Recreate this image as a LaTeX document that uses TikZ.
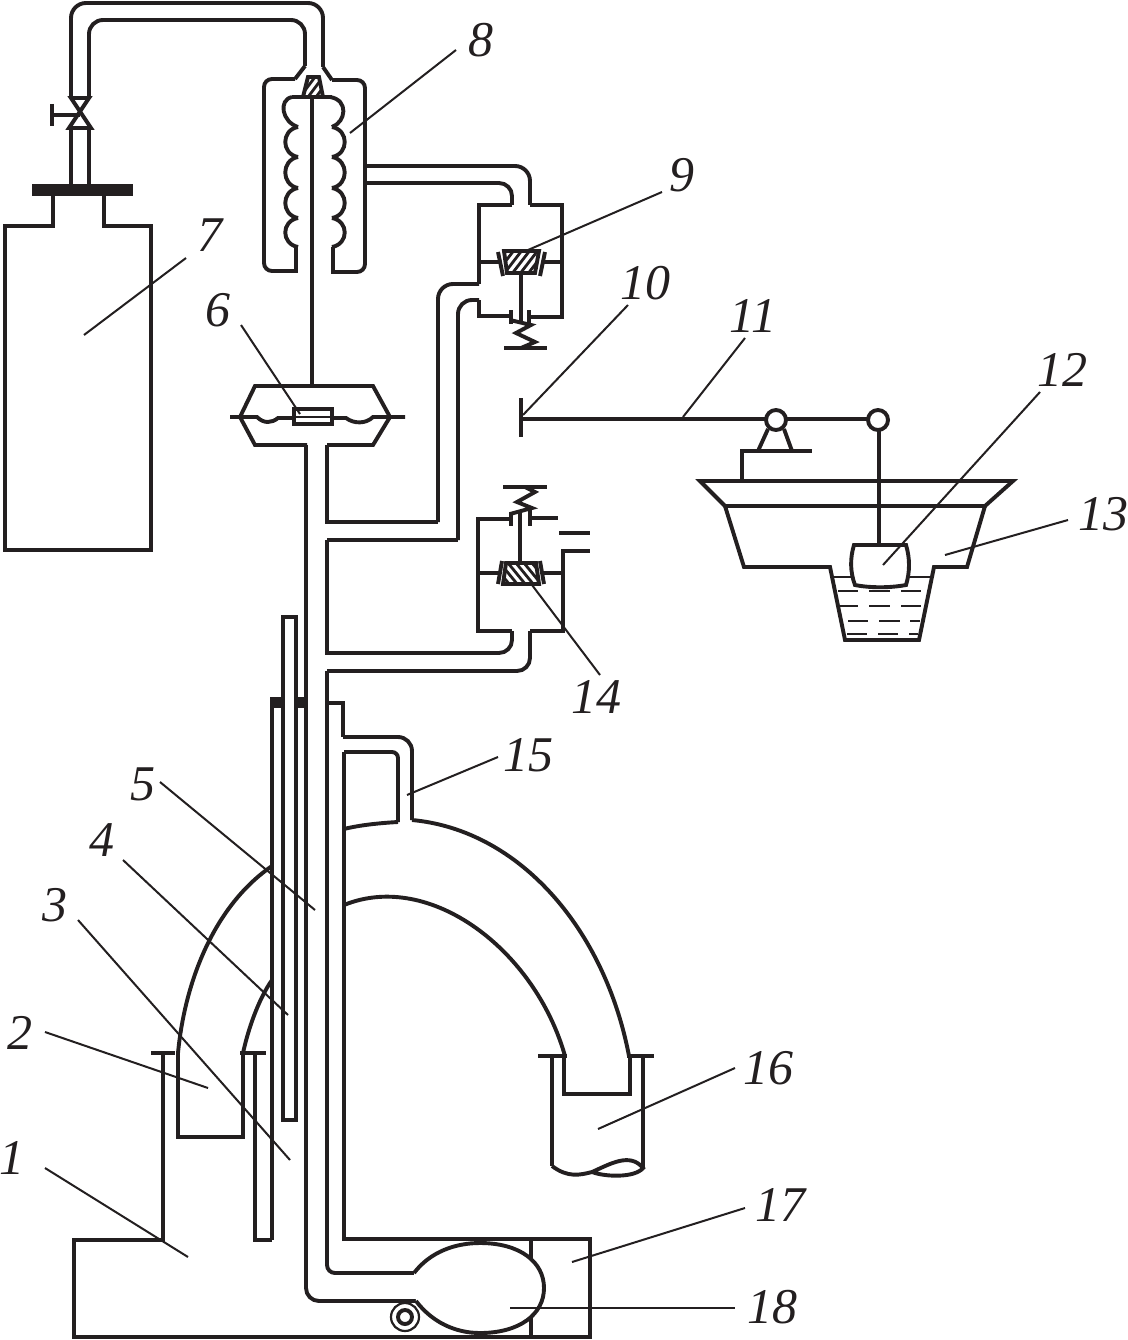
\documentclass[tikz,border=0pt]{standalone}
\usepackage{fontspec}
\setmainfont{Liberation Serif}
\definecolor{ink}{HTML}{231F20}
\tikzset{
  pipe/.style={draw=ink,line width=3.9pt,line join=miter},
  thinline/.style={draw=ink,line width=2.2pt},
  leader/.style={draw=ink,line width=2pt},
  solidbar/.style={fill=ink,draw=none},
  lab/.style={font=\fontsize{50}{50}\selectfont\itshape,text=ink,inner sep=0pt},
  hatchline/.style={draw=ink,line width=2.8pt}
}
\begin{document}
\begin{tikzpicture}[x=1pt,y=-1pt]
\useasboundingbox[fill=white] (0,0) rectangle (1127,1340);
% bottle
\draw[pipe] (53,196) -- (53,226) -- (5,226) -- (5,550) -- (151,550) -- (151,226) -- (104,226) -- (104,196);
\fill[solidbar] (32,184) rectangle (133,196);
\draw[pipe] (71,184) -- (71,128);
\draw[pipe] (89,184) -- (89,128);
% valve
\draw[pipe] (69,128) -- (91,128) -- (71,98) -- (89,98) -- (69,128) -- cycle;
\draw[pipe] (80,115) -- (52,115);
\draw[pipe] (52,104) -- (52,126);
% top tube + shell of 8
\draw[pipe,rounded corners=15pt] (71,98) -- (71,3) -- (323,3) -- (323,67);
\draw[pipe] (323,67) -- (332,80);
\draw[pipe,rounded corners=8pt] (332,80) -- (365,80) -- (365,272) -- (333,272);
\draw[pipe] (333,273.8) -- (333,247);
\draw[pipe,rounded corners=14pt] (89,98) -- (89,20) -- (305,20) -- (305,66);
\draw[pipe] (305,66) -- (295,79);
\draw[pipe,rounded corners=8pt] (295,79) -- (264,79) -- (264,271) -- (296,271);
\draw[pipe] (296,272.8) -- (296,247);
% bellows
\draw[pipe] (292,97) -- (332,97);
\draw[pipe] (292,97) .. controls (278,100) and (282,122) .. (298,127);
\draw[pipe] (330,97) .. controls (349,100) and (346,122) .. (332,127);
\foreach \ya/\yb in {127/157,157/188,188/218,218/247}{
  \draw[pipe] (298,\ya) .. controls (281,\ya+3) and (281,\yb-3) .. (298,\yb);
  \draw[pipe] (332,\ya) .. controls (349,\ya+3) and (349,\yb-3) .. (332,\yb);
}
% cap
\begin{scope}
\clip (308,77) -- (319,77) -- (323,97) -- (303,97) -- cycle;
\foreach \d in {-8,0,...,32}{\draw[hatchline] (300+\d,97) -- (315+\d,77);}
\end{scope}
\draw[pipe] (308,77) -- (319,77) -- (323,97) -- (303,97) -- cycle;
\draw[pipe] (312,97) -- (312,386);
% box 6
\draw[pipe] (307,445) -- (255,445) -- (240,417) -- (255,386) -- (373,386) -- (390,417) -- (373,445) -- (327,445);
\draw[pipe] (230,417) -- (257,417) .. controls (264,424) and (272,423) .. (278,418) -- (293,418);
\draw[pipe] (332,418) -- (346,418) .. controls (354,424) and (366,424) .. (373,417) -- (405,417);
\draw[pipe] (294,409) rectangle (332,424);
\draw[thinline] (294,417) -- (332,417);
% main tube
\draw[pipe,rounded corners=13pt] (306,445) -- (306,1301) -- (416,1301);
\draw[pipe] (327,445) -- (327,522) -- (438,522);
\draw[pipe,rounded corners=15pt] (438,522) -- (438,284) -- (479,284);
\draw[pipe] (327,540) -- (458,540);
\draw[pipe,rounded corners=14pt] (458,540) -- (458,300) -- (479,300);
\draw[pipe] (327,540) -- (327,653) -- (500,653);
\draw[pipe,rounded corners=13pt] (495,653) -- (512,653) -- (512,631);
\draw[pipe,rounded corners=13pt] (327,671) -- (530,671) -- (530,631);
\draw[pipe,rounded corners=8pt] (327,671) -- (327,1273) -- (416,1273);
% side pipe from 8
\draw[pipe,rounded corners=15pt] (365,166) -- (530,166) -- (530,205);
\draw[pipe,rounded corners=13pt] (365,183) -- (512,183) -- (512,205);
% valve 9
\draw[pipe] (512,205) -- (479,205) -- (479,284);
\draw[pipe] (530,205) -- (562,205) -- (562,317) -- (531,317);
\draw[pipe] (479,300) -- (479,316) -- (510,316);
\draw[pipe] (479,262) -- (500,262);
\draw[pipe] (543,262) -- (562,262);
\draw[pipe] (498,252) -- (503,276);
\draw[pipe] (545,252) -- (540,276);
\begin{scope}
\clip (504,251) -- (539,251) -- (535,273) -- (507,273) -- cycle;
\foreach \d in {-8,0,...,48}{\draw[hatchline] (495+\d,275) -- (515+\d,249);}
\end{scope}
\draw[pipe] (504,251) -- (539,251) -- (535,273) -- (507,273) -- cycle;
\draw[pipe] (521,273) -- (521,323);
\draw[pipe] (511,310) -- (511,324);
\draw[pipe] (529,310) -- (529,324);
\draw[pipe] (510,320) -- (531,325) -- (516,333) -- (535,342) -- (521,348);
\draw[pipe] (504,348) -- (547,348);
% valve 14
\draw[pipe] (503,487) -- (547,487);
\draw[pipe] (525,487) -- (535,492) -- (517,502) -- (532,508) -- (510,514);
\draw[pipe] (511,512) -- (511,526);
\draw[pipe] (530,508) -- (530,526);
\draw[pipe] (511,519) -- (478,519) -- (478,631) -- (512,631);
\draw[pipe] (530,631) -- (563,631) -- (563,551) -- (590,551);
\draw[pipe] (530,518) -- (558,518);
\draw[pipe] (559,533) -- (590,533);
\draw[pipe] (520,513) -- (520,563);
\draw[pipe] (478,573) -- (499,573);
\draw[pipe] (543,573) -- (563,573);
\draw[pipe] (502,561) -- (498,584);
\draw[pipe] (540,561) -- (544,584);
\begin{scope}
\clip (506,563) -- (536,563) -- (539,584) -- (503,584) -- cycle;
\foreach \d in {-8,0,...,48}{\draw[hatchline] (500+\d,563) -- (518+\d,585);}
\end{scope}
\draw[pipe] (506,563) -- (536,563) -- (539,584) -- (503,584) -- cycle;
% lever
\draw[pipe] (521,398) -- (521,437);
\draw[pipe] (521,419) -- (766,419);
\draw[pipe] (786,419) -- (868,419);
\draw[pipe] (776,420) circle (10);
\draw[pipe] (878,420) circle (10);
\draw[pipe] (768,429) -- (758,451);
\draw[pipe] (784,429) -- (792,451);
\draw[pipe] (742,481) -- (742,451) -- (812,451);
\draw[pipe] (879,430) -- (879,545);
% basin
\draw[pipe] (725,506) -- (700,481) -- (1013,481) -- (985,506) -- cycle;
\draw[pipe] (725,506) -- (744,567) -- (830,567) -- (845,640) -- (919,640) -- (934,567) -- (967,567) -- (985,506);
\draw[thinline] (831,577) -- (852,577);
\draw[thinline] (907,577) -- (932,577);
\foreach \y/\xa/\xb in {591/838/858,591/869/890,591/901/921,606/840/858,606/869/890,606/901/921,621/848/868,621/879/900,621/910/920,634/847/867,634/878/898,634/909/918}{
  \draw[thinline] (\xa,\y) -- (\xb,\y);
}
\draw[pipe,fill=white] (854,545) -- (906,545) .. controls (910,558) and (910,572) .. (906,585) .. controls (890,588) and (870,588) .. (855,585) .. controls (850,572) and (850,558) .. (854,545) -- cycle;
% flange and inner tube at main
\draw[pipe] (272,703) -- (272,1240);
\draw[pipe] (283,703) -- (283,617) -- (296,617) -- (296,703);
\draw[pipe] (283,703) -- (283,1120) -- (296,1120) -- (296,703);
\fill[solidbar] (270,697) rectangle (283,708);
\fill[solidbar] (296,697) rectangle (306,708);
\draw[pipe] (328,703) -- (343,703) -- (343,737);
\draw[pipe,rounded corners=14pt] (343,737) -- (412,737) -- (412,820);
\draw[pipe] (344,1241) -- (344,752);
\draw[pipe,rounded corners=6pt] (344,752) -- (398,752) -- (398,822);
\draw[pipe] (398,822) .. controls (380,823) and (360,825) .. (344,829);
% arches
\draw[pipe] (412,820) .. controls (520,830) and (605,930) .. (629,1056);
\draw[pipe] (344,905) .. controls (430,870) and (535,950) .. (565,1056);
\draw[pipe] (272,866) .. controls (215,905) and (185,980) .. (178,1053);
\draw[pipe] (272,980) .. controls (258,1000) and (248,1030) .. (243,1053);
% left cup
\draw[pipe] (178,1053) -- (178,1137) -- (243,1137) -- (243,1053);
\draw[pipe] (151,1053) -- (175,1053);
\draw[pipe] (240,1053) -- (266,1053);
\draw[pipe] (163,1053) -- (163,1240) -- (74,1240) -- (74,1337) -- (590,1337);
\draw[pipe] (255,1053) -- (255,1240) -- (272,1240);
% right cup
\draw[pipe] (564,1056) -- (564,1094) -- (630,1094) -- (630,1056);
\draw[pipe] (538,1056) -- (567,1056);
\draw[pipe] (627,1056) -- (654,1056);
\draw[pipe] (552,1056) -- (552,1166);
\draw[pipe] (643,1056) -- (643,1168);
\draw[pipe] (552,1166) .. controls (568,1178) and (580,1175) .. (592,1172) .. controls (610,1164) and (630,1152) .. (643,1168) .. controls (635,1178) and (605,1177) .. (592,1172);
% bottom
\draw[pipe] (344,1239) -- (592,1239);
\draw[pipe] (590,1239) -- (590,1339);
\draw[pipe] (531,1239) -- (531,1339);
\draw[pipe,fill=white] (414,1273) .. controls (430,1252) and (455,1243) .. (480,1243) .. controls (520,1243) and (544,1262) .. (544,1288) .. controls (544,1314) and (520,1333) .. (480,1333) .. controls (455,1333) and (432,1322) .. (416,1301);
\draw[thinline] (405,1317) circle (14);
\draw[pipe] (405,1317) circle (7);
% leaders
\draw[leader] (84,335) -- (186,258);
\draw[leader] (350,133) -- (456,50);
\draw[leader] (300,414) -- (241,325);
\draw[leader] (528,250) -- (662,192);
\draw[leader] (523,415) -- (628,305);
\draw[leader] (683,417) -- (745,338);
\draw[leader] (883,565) -- (1040,392);
\draw[leader] (945,555) -- (1068,520);
\draw[leader] (532,585) -- (600,675);
\draw[leader] (407,795) -- (498,757);
\draw[leader] (315,910) -- (160,782);
\draw[leader] (288,1015) -- (123,860);
\draw[leader] (290,1160) -- (78,920);
\draw[leader] (208,1088) -- (45,1032);
\draw[leader] (188,1257) -- (45,1168);
\draw[leader] (598,1129) -- (735,1068);
\draw[leader] (572,1262) -- (745,1208);
\draw[leader] (510,1308) -- (735,1308);
% labels
\node[lab] (n1) at (12,1158) {1};
\node[lab] (n2) at (20,1033) {2};
\node[lab] (n3) at (55,905) {3};
\node[lab] (n4) at (102,840) {4};
\node[lab] (n5) at (143,784) {5};
\node[lab] (n6) at (218,310) {6};
\node[lab] (n7) at (210,235) {7};
\node[lab] (n8) at (481,40) {8};
\node[lab] (n9) at (682,175) {9};
\node[lab] (n10) at (645,283) {10};
\node[lab] (n11) at (753,316) {11};
\node[lab] (n12) at (1062,370) {12};
\node[lab] (n13) at (1103,514) {13};
\node[lab] (n14) at (596,697) {14};
\node[lab] (n15) at (528,755) {15};
\node[lab] (n16) at (768,1068) {16};
\node[lab] (n17) at (780,1205) {17};
\node[lab] (n18) at (772,1307) {18};
\end{tikzpicture}
\end{document}
